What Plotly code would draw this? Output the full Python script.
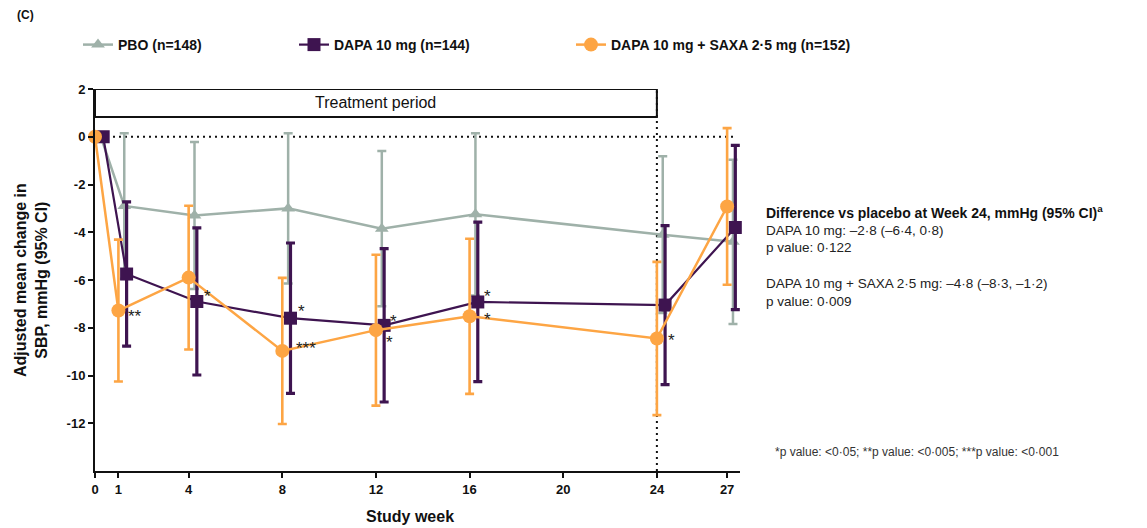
import plotly.graph_objects as go

# ---- data -------------------------------------------------------------
weeks = [0, 1, 4, 8, 12, 16, 24, 27]

pbo_mean = [0.0, -2.9, -3.3, -3.0, -3.85, -3.25, -4.1, -4.4]
pbo_upper = [0.0, 0.15, -0.22, 0.15, -0.6, 0.15, -0.82, -0.96]

dapa_mean = [0.0, -5.75, -6.9, -7.6, -7.9, -6.92, -7.05, -3.8]
dapa_upper = [0.0, -2.73, -3.82, -4.45, -4.69, -3.58, -3.72, -0.36]

saxa_mean = [0.0, -7.28, -5.9, -8.97, -8.1, -7.52, -8.45, -2.92]
saxa_upper = [0.0, -4.31, -2.89, -5.91, -4.94, -4.27, -5.24, 0.36]

series_names = ["PBO (n=148)", "DAPA 10 mg (n=144)", "DAPA 10 mg + SAXA 2·5 mg (n=152)"]

x_tickvals = [0, 1, 4, 8, 12, 16, 20, 24, 27]
x_ticktext = ["0", "1", "4", "8", "12", "16", "20", "24", "27"]
y_tickvals = [2, 0, -2, -4, -6, -8, -10, -12]
y_ticktext = ["2", "0", "-2", "-4", "-6", "-8", "-10", "-12"]

# significance markers: (series index, week, label, dx px, dy px down)
stars = [
    (2, 1, "**", 10, 1),
    (1, 4, "*", 7, -10),
    (1, 8, "*", 8, -12),
    (2, 8, "***", 14, -7),
    (1, 12, "*", 6, -9),
    (2, 12, "*", 10, 7),
    (1, 16, "*", 6, -10),
    (2, 16, "*", 14, -2),
    (2, 24, "*", 11, -3),
]

diff_title = "Difference vs placebo at Week 24, mmHg (95% CI)<sup>a</sup>"
diff_lines = [
    "DAPA 10 mg: –2·8 (–6·4, 0·8)",
    "p value: 0·122",
    "",
    "DAPA 10 mg + SAXA 2·5 mg: –4·8 (–8·3, –1·2)",
    "p value: 0·009",
]
footnote = "*p value: <0·05; **p value: <0·005; ***p value: <0·001"

# ---- styling ----------------------------------------------------------
W, H = 1147, 528
ML, MR, MT, MB = 95, 407, 89, 57
PW, PH = W - ML - MR, H - MT - MB

def px_x(px):
    return (px - ML) / PW

def px_y(py):
    return (H - MB - py) / PH

colors = ["#9fb1a9", "#3e1450", "#fda544"]
symbols = ["triangle-up", "square", "circle"]
msizes = [12, 13, 14]
x_offsets = [0.25, 0.35, 0.0]
bar_w = [2.5, 3.2, 2.6]
FONT = "Arial, Liberation Sans, Helvetica, sans-serif"
DOTS = "2px,4px"

means = [pbo_mean, dapa_mean, saxa_mean]
uppers = [pbo_upper, dapa_upper, saxa_upper]

fig = go.Figure()

legend_x = [px_x(78), px_x(294), px_x(571)]
legend_keys = ["legend", "legend2", "legend3"]

for i in range(3):
    xs = [w + x_offsets[i] for w in weeks]
    err = [u - m for u, m in zip(uppers[i], means[i])]
    fig.add_trace(go.Scatter(
        x=xs, y=means[i], mode="lines+markers", name=series_names[i],
        line=dict(color=colors[i], width=2.5 if i != 1 else 2.2),
        marker=dict(symbol=symbols[i], size=msizes[i], color=colors[i]),
        error_y=dict(type="data", array=err, visible=True, color=colors[i],
                     thickness=bar_w[i], width=4.5),
        cliponaxis=False,
        showlegend=True,
        legend=legend_keys[i],
    ))

# legends, one per series, placed along the top
leg_common = dict(orientation="h", yanchor="middle", y=px_y(45), xanchor="left",
                  font=dict(family=FONT, size=14, color="#111", weight="bold"),
                  bgcolor="rgba(0,0,0,0)", itemwidth=30, visible=True)
fig.update_layout(
    showlegend=True,
    legend=dict(x=legend_x[0], **leg_common),
    legend2=dict(x=legend_x[1], **leg_common),
    legend3=dict(x=legend_x[2], **leg_common),
)

annotations = []
for s, wk, txt, dx, dy in stars:
    k = weeks.index(wk)
    annotations.append(dict(
        x=wk + x_offsets[s], y=means[s][k], xref="x", yref="y", text=txt,
        showarrow=False, xanchor="left", yanchor="middle",
        xshift=dx - 2, yshift=-dy - 5,
        font=dict(family=FONT, size=17, color="#222"),
    ))

# treatment period label
annotations.append(dict(x=12, y=1.42, xref="x", yref="y", text="Treatment period",
                        showarrow=False, xanchor="center", yanchor="middle",
                        font=dict(family=FONT, size=16, color="#111")))

# axis titles
annotations.append(dict(x=px_x(31), y=0.5, xref="paper", yref="paper",
                        text="<b>Adjusted mean change in<br>SBP, mmHg (95% CI)</b>",
                        textangle=-90, showarrow=False,
                        font=dict(family=FONT, size=16, color="#111"),
                        xanchor="center", yanchor="middle"))
annotations.append(dict(x=px_x(410), y=px_y(516), xref="paper", yref="paper",
                        text="<b>Study week</b>", showarrow=False,
                        xanchor="center", yanchor="middle",
                        font=dict(family=FONT, size=16, color="#111")))

# panel letter
annotations.append(dict(x=px_x(15), y=px_y(15), xref="paper", yref="paper",
                        text="<b>(C)</b>", showarrow=False, xanchor="left", yanchor="middle",
                        font=dict(family=FONT, size=12, color="#111")))

# difference block
annotations.append(dict(x=px_x(764), y=px_y(212), xref="paper", yref="paper",
                        text="<b>" + diff_title + "</b>", showarrow=False,
                        xanchor="left", yanchor="middle",
                        font=dict(family=FONT, size=14, color="#111")))
for j, line in enumerate(diff_lines):
    if not line:
        continue
    annotations.append(dict(x=px_x(764), y=px_y(230 + 17.8 * j), xref="paper", yref="paper",
                            text=line, showarrow=False, xanchor="left", yanchor="middle",
                            font=dict(family=FONT, size=13.5, color="#222")))
annotations.append(dict(x=px_x(773), y=px_y(452), xref="paper", yref="paper",
                        text=footnote, showarrow=False, xanchor="left", yanchor="middle",
                        font=dict(family=FONT, size=12, color="#333")))

shapes = [
    dict(type="rect", xref="x", yref="y", x0=0, x1=24, y0=0.83, y1=2,
         line=dict(color="#111", width=2), layer="below"),
    dict(type="line", xref="x", yref="y", x0=0, x1=27.4, y0=0, y1=0,
         line=dict(color="#111", width=2, dash=DOTS), layer="below"),
    dict(type="line", xref="x", yref="y", x0=24, x1=24, y0=-14, y1=2,
         line=dict(color="#111", width=2, dash=DOTS), layer="below"),
]

fig.update_layout(
    width=W, height=H,
    margin=dict(l=ML, r=MR, t=MT, b=MB),
    paper_bgcolor="white", plot_bgcolor="white",
    annotations=annotations, shapes=shapes,
    font=dict(family=FONT, color="#111"),
    xaxis=dict(range=[0, 27.55], tickvals=x_tickvals, ticktext=x_ticktext,
               showgrid=False, zeroline=False, showline=True, linecolor="#111",
               linewidth=2, ticks="outside", ticklen=5, tickwidth=2, tickcolor="#111",
               tickfont=dict(family=FONT, size=13, color="#111", weight="bold"),
               fixedrange=True),
    yaxis=dict(range=[-14, 2], tickvals=y_tickvals, ticktext=y_ticktext,
               showgrid=False, zeroline=False, showline=True, linecolor="#111",
               linewidth=2, ticks="outside", ticklen=5, tickwidth=2, tickcolor="#111",
               tickfont=dict(family=FONT, size=13, color="#111", weight="bold"),
               fixedrange=True),
)

fig.write_html("out.html")
